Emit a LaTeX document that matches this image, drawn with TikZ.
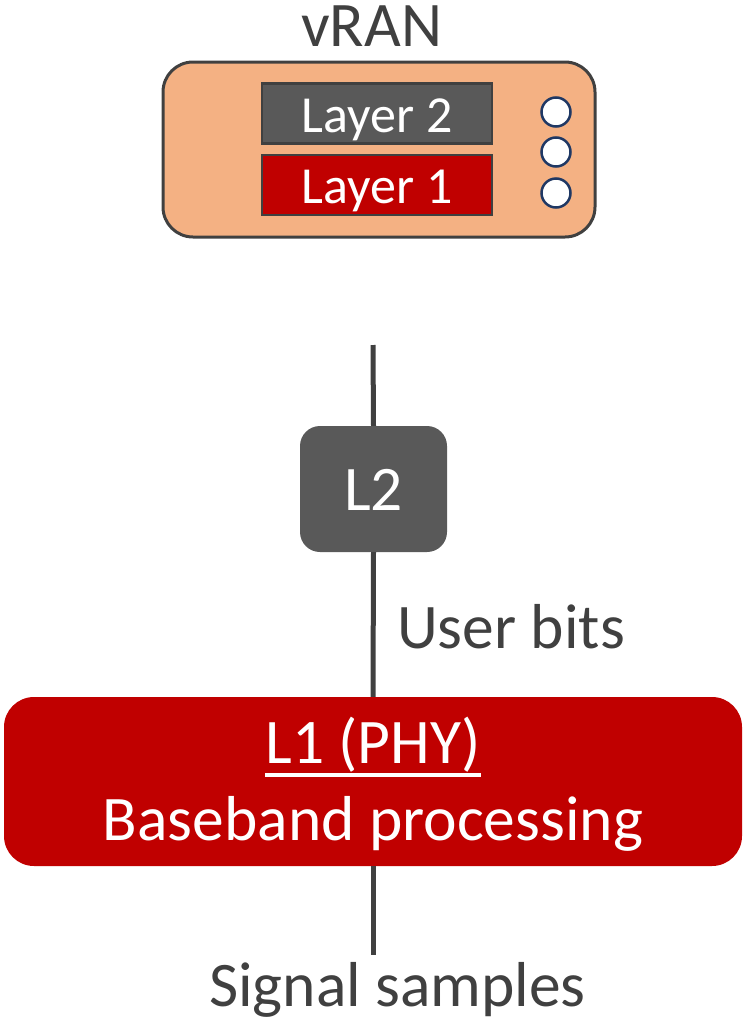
\documentclass[tikz,border=0pt]{standalone}
\usepackage{fontspec}
\setmainfont{Carlito}
\definecolor{peach}{HTML}{F4B183}
\definecolor{darkgray}{HTML}{595959}
\definecolor{deepred}{HTML}{C00000}
\definecolor{inkgray}{HTML}{404040}
\definecolor{navy}{HTML}{1F3864}
\tikzset{
  bigtext/.style={font=\fontsize{63.5}{76}\selectfont, text=inkgray, inner sep=0pt},
  layerbox/.style={draw=inkgray, line width=2.5pt, minimum width=230pt, minimum height=60pt,
    inner sep=0pt, text=white, font=\fontsize{52}{62}\selectfont, text height=37pt, text depth=0pt},
  port/.style={circle, draw=navy, fill=white, line width=2.5pt, minimum size=29pt, inner sep=0pt},
  wire/.style={draw=inkgray, line width=5pt},
}
\begin{document}
\begin{tikzpicture}[x=1pt, y=-1pt]
\useasboundingbox (0,0) rectangle (743,1023);

% vRAN server
\node[bigtext, anchor=base, text height=40pt] (title) at (371.5,46) {vRAN};
\node[draw=inkgray, line width=3pt, fill=peach, rounded corners=30pt,
      minimum width=432pt, minimum height=175pt, inner sep=0pt] (server) at (379,149.5) {};
\node[layerbox, fill=darkgray] (layer2) at (377,113.5) {Layer 2};
\node[layerbox, fill=deepred] (layer1) at (377,185) {Layer 1};
\node[port] (p1) at (556,112) {};
\node[port] (p2) at (556,152) {};
\node[port] (p3) at (556,193) {};

% processing chain
\coordinate (top) at (373,345);
\coordinate (bottom) at (373,955);
\node[fill=darkgray, rounded corners=20pt, minimum width=147pt, minimum height=126pt,
      inner sep=0pt, text=white, font=\fontsize{63.5}{76}\selectfont,
      text height=42pt, text depth=0pt] (l2) at (373.5,489) {L2};
\node[fill=deepred, rounded corners=30pt, minimum width=738pt, minimum height=169pt,
      inner sep=0pt] (l1) at (373,781.5) {};
\node[bigtext, text=white, anchor=base] (phy) at ([yshift=18.5pt]l1.center) {L1 (PHY)};
\draw[white, line width=3.5pt] ([yshift=-12pt]phy.base west) -- ([yshift=-12pt]phy.base east);
\node[bigtext, text=white, anchor=base] (bb) at ([yshift=-58.5pt]l1.center) {Baseband processing};

\draw[wire] (top) -- (l2.north);
\draw[wire] (l2.south) -- (l1.north);
\draw[wire] (l1.south) -- (bottom);

\node[bigtext, anchor=base west] (bits) at (397,648) {User bits};
\node[bigtext, anchor=base, text depth=12pt] (samples) at (397.5,1006) {Signal samples};
\end{tikzpicture}
\end{document}
